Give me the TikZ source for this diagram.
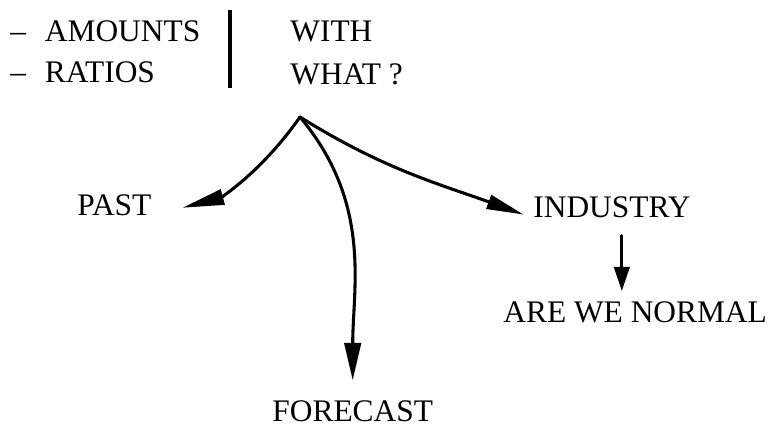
\documentclass[tikz,border=0pt]{standalone}
\usepackage{fontspec}
\setmainfont{Liberation Serif}
\usetikzlibrary{arrows.meta}

\begin{document}
\begin{tikzpicture}[
  x=0.016cm, y=-0.016cm,
  lbl/.style={anchor=west, inner sep=0pt, font=\fontsize{14.3}{16}\selectfont},
  arrow/.style={-{Triangle[length=17pt, width=6.5pt]}, line width=1.4pt, line cap=round},
]
  \useasboundingbox (0,0) rectangle (774,427);
  \node[lbl] (amounts) at (10,31) {--\hspace{0.6em}AMOUNTS};
  \node[lbl] (ratios) at (10,72) {--\hspace{0.6em}RATIOS};
  \node[lbl] (with) at (290,31) {WITH};
  \node[lbl] (what) at (290,74) {WHAT ?};
  \coordinate (sepTop) at (230,10);
  \coordinate (sepBot) at (230,88);
  \draw[line width=1.4pt] (sepTop) -- (sepBot);

  \coordinate (apex) at (300,117);
  \node[lbl] (past) at (77,205) {PAST};
  \node[lbl] (industry) at (533,207) {INDUSTRY};
  \node[lbl] (normal) at (503,312) {ARE WE NORMAL};
  \node[lbl] (forecast) at (272,411) {FORECAST};

  \draw[arrow, -{Triangle[length=19pt, width=7pt]}, shorten >=14.5pt] (apex) to[out=-125, in=15] (past.south east);
  \draw[arrow, -{Triangle[length=17pt, width=7.5pt]}, shorten >=9pt] (apex) to[out=-50, in=90] (forecast.north);
  \draw[arrow, shorten >=4.5pt] (apex) to[out=-32, in=160] (industry.south west);
  \draw[arrow, -{Triangle[length=11pt, width=7pt]}, shorten <=8pt, shorten >=4.5pt]
    ([xshift=4.5pt]industry.south) -- ([xshift=4.5pt]industry.south |- normal.north);
\end{tikzpicture}
\end{document}
